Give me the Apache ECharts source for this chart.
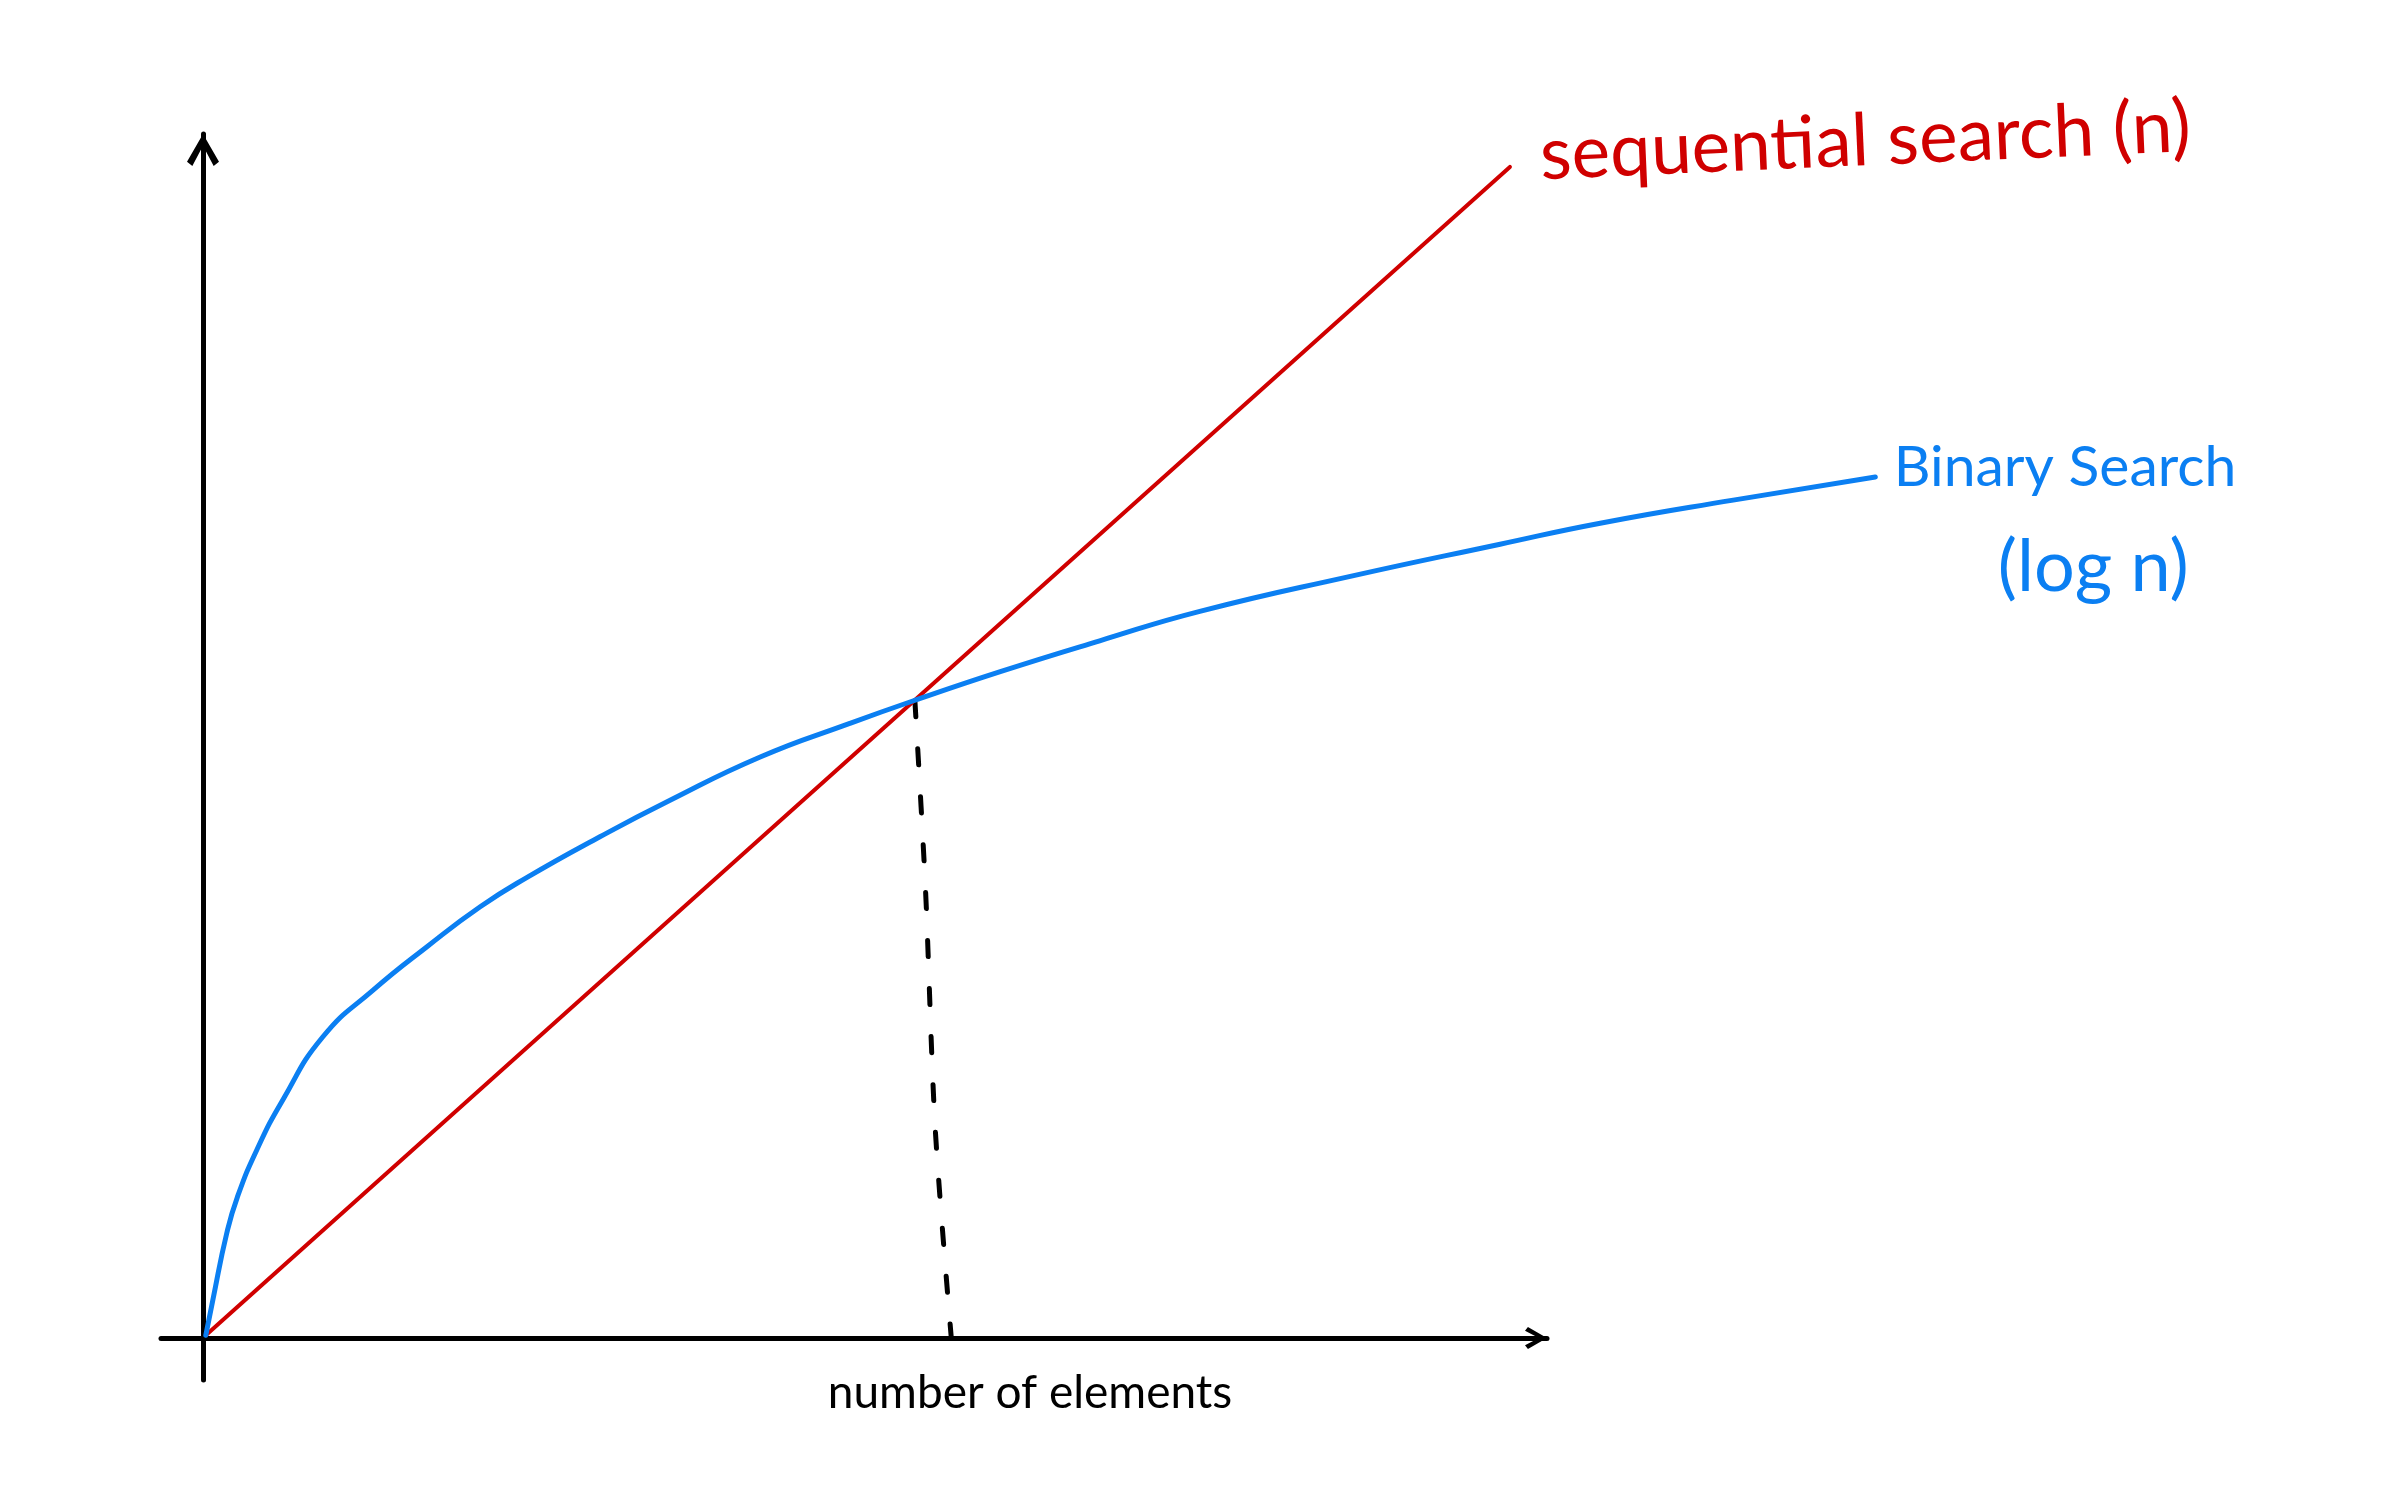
<!DOCTYPE html>
<html>
<head>
<meta charset="utf-8">
<script src="https://cdn.jsdelivr.net/npm/echarts@6/dist/echarts.min.js"></script>
<style>html,body{margin:0;padding:0;background:#fff;}#c{width:2386px;height:1491px;}</style>
</head>
<body>
<div id="c"></div>
<script>
// ---- data (sketch units: number of elements vs. search time) ----
const seqName = 'sequential search (n)';
const seqX = [0.4, 186.7];
const seqY = [0.4, 167.3];

const binName = 'Binary Search (log n)';
const binX = [0.4, 1.4, 3.4, 4.9, 7.7, 11.4, 17.1, 24.3, 32.0, 39.6, 46.3, 56.7, 66.3, 79.6, 92.4, 101.4, 113.9, 128.1, 142.4, 163.9, 185.3, 199.6, 218.6, 238.9];
const binY = [0.4, 5.4, 15.0, 20.1, 26.9, 34.0, 43.0, 49.7, 55.9, 61.6, 65.8, 71.6, 76.6, 83.0, 87.8, 91.0, 95.2, 99.6, 103.8, 108.8, 113.4, 116.4, 119.7, 123.0];

const crossX = [101.7, 103.2, 104.6, 106.9];
const crossY = [91.0, 64.4, 30.0, 0];

const xAxisName = 'number of elements';

const RED = '#d00000';
const BLUE = '#0b7ff2';
const FONT = 'Lato, "Noto Sans", sans-serif';
const chevron = 'path://M0,26 L15,0 L30,26 L25,30 L15,11 L5,30 Z';

function pairs(xs, ys) { return xs.map((x, i) => [x, ys[i]]); }

const chart = echarts.init(document.getElementById('c'), null, {renderer: 'canvas'});
chart.setOption({
  animation: false,
  backgroundColor: '#ffffff',
  grid: [
    {left: 161, top: 134, width: 1386, height: 1246, outerBoundsMode: 'none', containLabel: false},
    {left: 161, top: 134, width: 1792, height: 1246, outerBoundsMode: 'none', containLabel: false}
  ],
  xAxis: [
    {
      type: 'value', gridIndex: 0, min: -6, max: 192,
      axisLine: {show: true, onZero: true, symbol: ['none', chevron], symbolSize: [48, 22], symbolOffset: [0, -11],
        lineStyle: {color: '#000', width: 5, cap: 'round'}},
      axisTick: {show: false}, axisLabel: {show: false}, splitLine: {show: false},
      name: xAxisName, nameLocation: 'middle', nameGap: -10,
      nameTextStyle: {color: '#000', fontSize: 46, fontFamily: FONT, padding: [0, 0, 0, 352]}
    },
    {type: 'value', gridIndex: 1, min: -6, max: 250, show: false}
  ],
  yAxis: [
    {
      type: 'value', gridIndex: 0, min: -6, max: 172,
      axisLine: {show: true, onZero: true, symbol: ['none', chevron], symbolSize: [38, 32], symbolOffset: [0, -16],
        lineStyle: {color: '#000', width: 5, cap: 'round'}},
      axisTick: {show: false}, axisLabel: {show: false}, splitLine: {show: false}
    },
    {type: 'value', gridIndex: 1, min: -6, max: 172, show: false}
  ],
  series: [
    {
      name: seqName, type: 'line', xAxisIndex: 1, yAxisIndex: 1,
      data: pairs(seqX, seqY),
      symbol: 'circle', symbolSize: 1, showSymbol: true,
      itemStyle: {color: RED},
      lineStyle: {color: RED, width: 4, cap: 'round'},
      label: {
        show: true, position: 'right', distance: 5, offset: [25, -10], rotate: 2.5,
        color: RED, fontSize: 73, fontFamily: FONT,
        formatter: p => p.dataIndex === seqX.length - 1 ? seqName : ''
      },
      emphasis: {disabled: true}, z: 3
    },
    {
      name: binName, type: 'line', xAxisIndex: 1, yAxisIndex: 1,
      data: pairs(binX, binY),
      smooth: 0.5,
      symbol: 'circle', symbolSize: 1, showSymbol: true,
      itemStyle: {color: BLUE},
      lineStyle: {color: BLUE, width: 5, cap: 'round', join: 'round'},
      label: {
        show: true, position: 'right', distance: 5, offset: [13, 41],
        color: BLUE, fontFamily: FONT,
        formatter: p => p.dataIndex === binX.length - 1 ? '{a|Binary Search}\n{b|(log n)}' : '',
        rich: {
          a: {color: BLUE, fontSize: 57, fontFamily: FONT, lineHeight: 100},
          b: {color: BLUE, fontSize: 72, fontFamily: FONT, lineHeight: 100, padding: [0, 0, 0, 104]}
        }
      },
      emphasis: {disabled: true}, z: 4
    },
    {
      name: 'crossover', type: 'line', xAxisIndex: 1, yAxisIndex: 1,
      data: pairs(crossX, crossY),
      smooth: 0.3,
      showSymbol: false, symbol: 'none',
      lineStyle: {color: '#000', width: 5, type: [16, 32], cap: 'round'},
      emphasis: {disabled: true}, z: 2
    }
  ]
});
</script>
</body>
</html>
